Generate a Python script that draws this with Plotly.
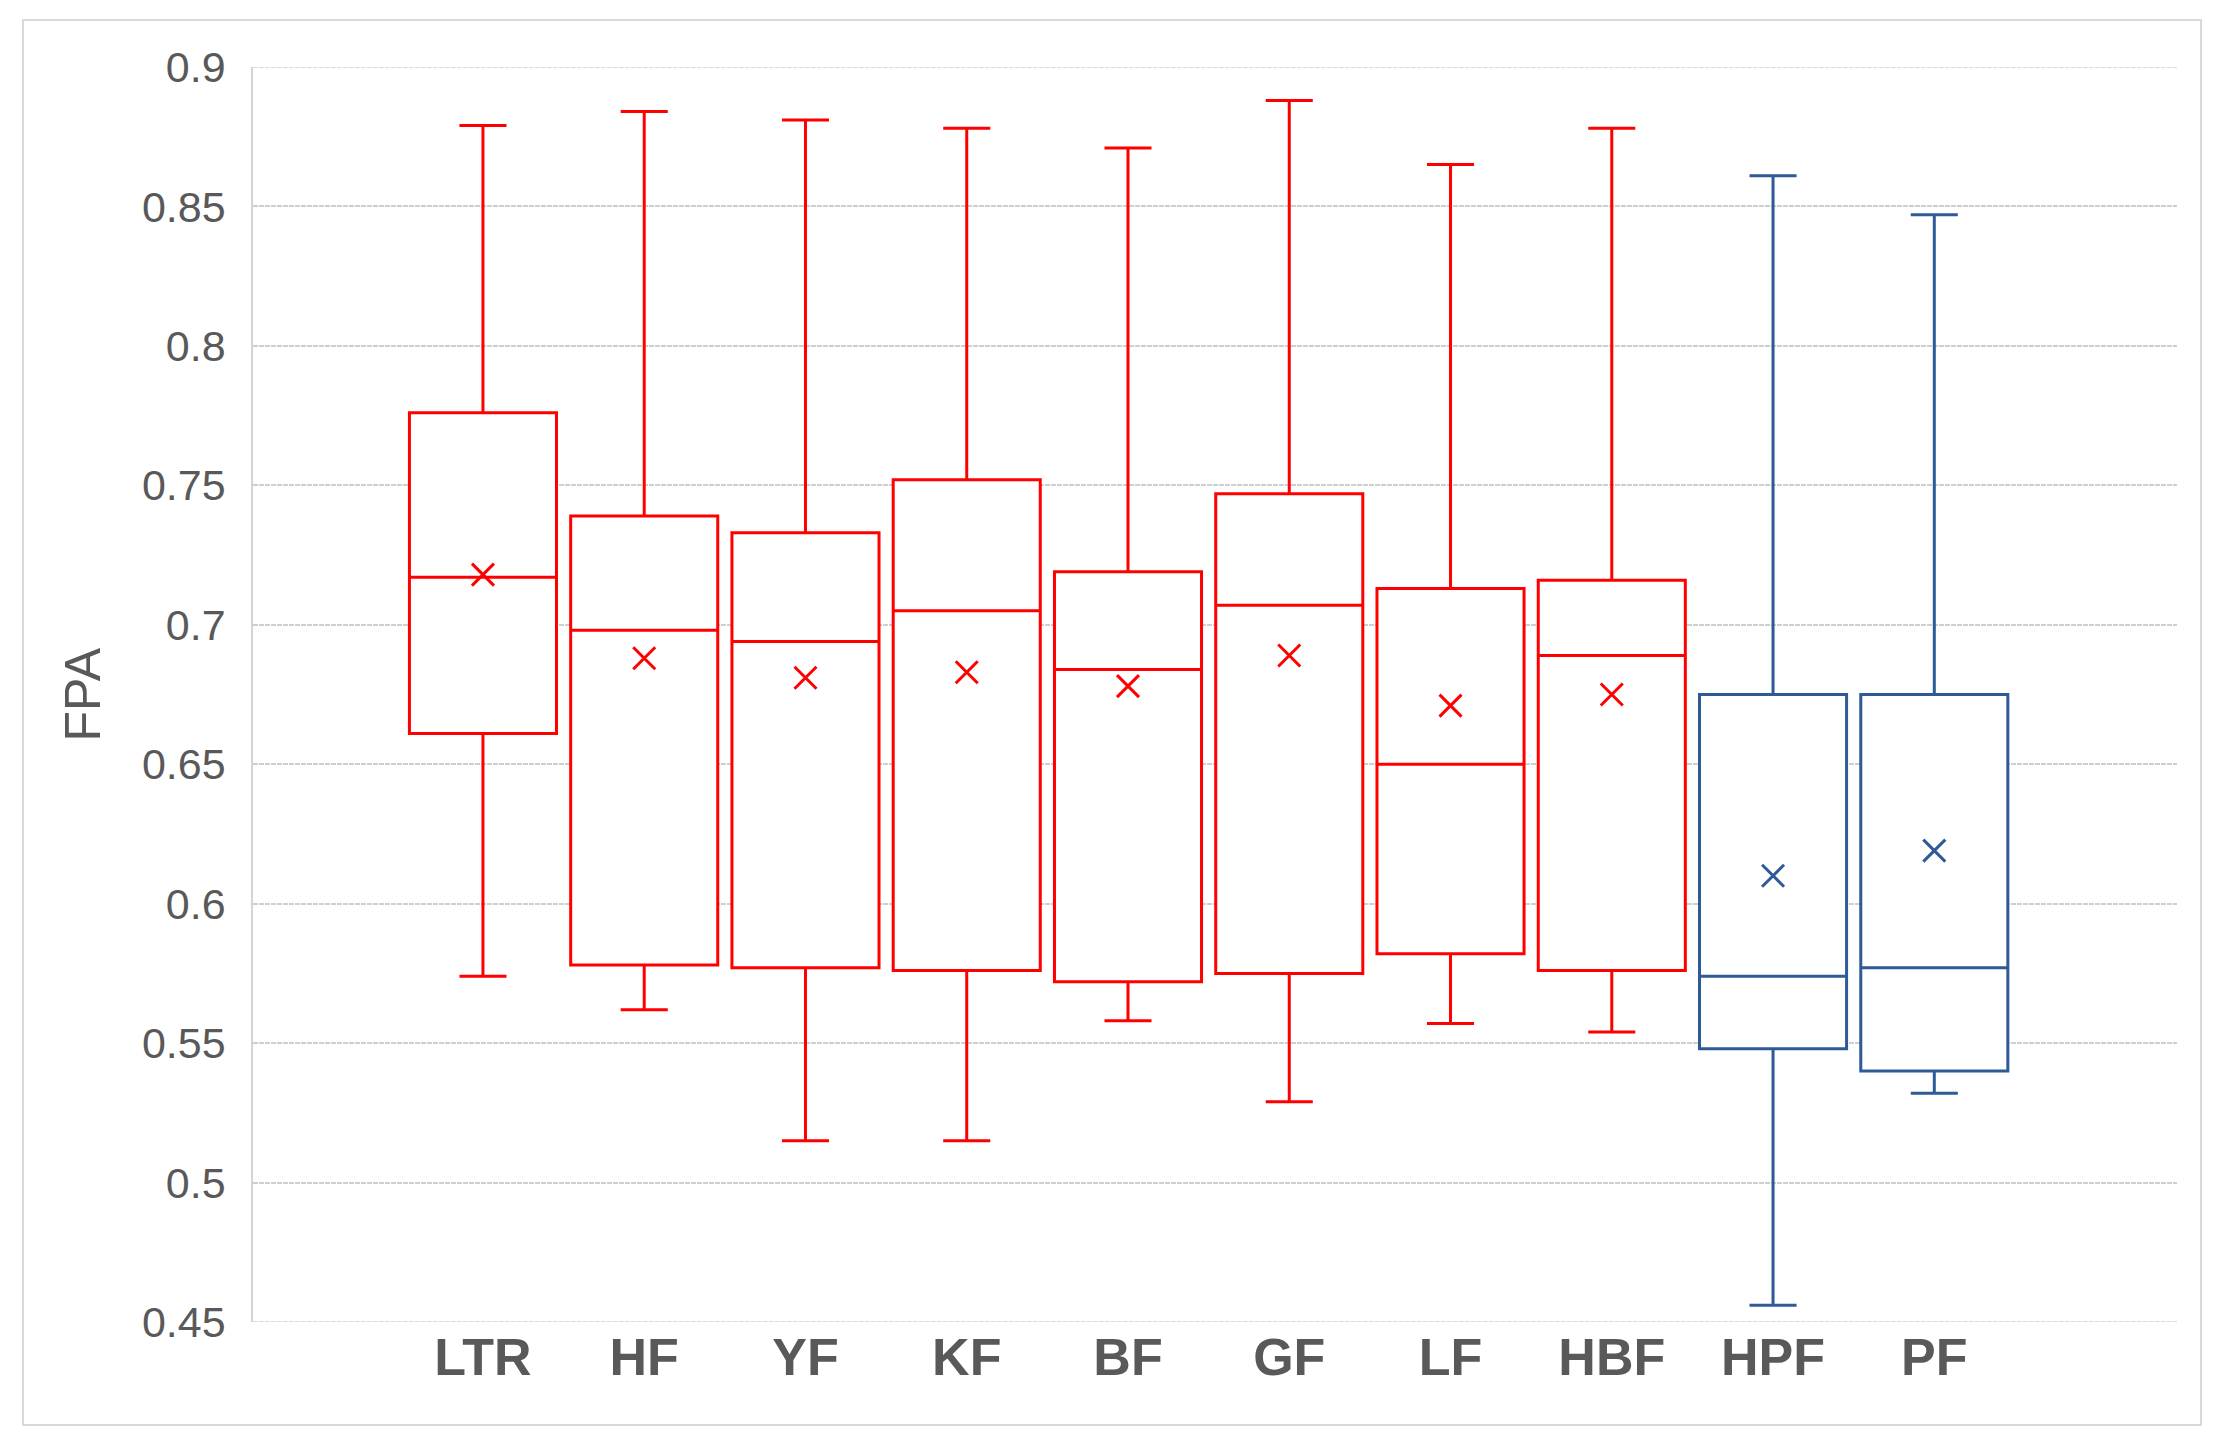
import plotly.graph_objects as go

# ---- data ----
categories = ["LTR", "HF", "YF", "KF", "BF", "GF", "LF", "HBF", "HPF", "PF"]
upper_whisker = [0.879, 0.884, 0.881, 0.878, 0.871, 0.888, 0.865, 0.878, 0.861, 0.847]
q3_values     = [0.776, 0.739, 0.733, 0.752, 0.719, 0.747, 0.713, 0.716, 0.675, 0.675]
median_values = [0.717, 0.698, 0.694, 0.705, 0.684, 0.707, 0.650, 0.689, 0.574, 0.577]
q1_values     = [0.661, 0.578, 0.577, 0.576, 0.572, 0.575, 0.582, 0.576, 0.548, 0.540]
lower_whisker = [0.574, 0.562, 0.515, 0.515, 0.558, 0.529, 0.557, 0.554, 0.456, 0.532]
mean_values   = [0.718, 0.688, 0.681, 0.683, 0.678, 0.689, 0.671, 0.675, 0.610, 0.619]
red_group  = ["LTR", "HF", "YF", "KF", "BF", "GF", "LF", "HBF"]
blue_group = ["HPF", "PF"]

y_tick_values = [0.45, 0.5, 0.55, 0.6, 0.65, 0.7, 0.75, 0.8, 0.85, 0.9]
y_tick_labels = ["0.45", "0.5", "0.55", "0.6", "0.65", "0.7", "0.75", "0.8", "0.85", "0.9"]
y_title = "FPA"

RED = "#FF0000"
BLUE = "#2F5A98"
GRID = "#CFCFCF"

fig = go.Figure()

def add_group(names, color):
    idx = [categories.index(n) for n in names]
    fig.add_trace(go.Box(
        x=names,
        q1=[q1_values[i] for i in idx],
        median=[median_values[i] for i in idx],
        q3=[q3_values[i] for i in idx],
        lowerfence=[lower_whisker[i] for i in idx],
        upperfence=[upper_whisker[i] for i in idx],
        boxpoints=False,
        width=0.912,
        whiskerwidth=0.32,
        line=dict(color=color, width=3),
        fillcolor="white",
        showlegend=False,
        hoverinfo="skip",
    ))
    fig.add_trace(go.Scatter(
        x=names,
        y=[mean_values[i] for i in idx],
        mode="markers",
        marker=dict(symbol="x-thin", size=22, color=color,
                    line=dict(color=color, width=3)),
        showlegend=False,
        hoverinfo="skip",
    ))

add_group(red_group, RED)
add_group(blue_group, BLUE)

# page body has an 8px margin; figure is sized to fit inside the window
W, H = 2212, 1428
OFF = 8
px_left, px_right, px_top, px_bottom = 253 - OFF, 2177 - OFF, 67 - OFF, 1322 - OFF
L, R, T, B = px_left, W - px_right, px_top, H - px_bottom
PW, PH = W - L - R, H - T - B

edge_lines = [dict(
    type="line", xref="paper", yref="y",
    x0=0, x1=1, y0=v, y1=v,
    line=dict(color=GRID, width=1.6, dash="5px,1px"), layer="below",
) for v in (y_tick_values[0], y_tick_values[-1])]

fig.update_layout(
    width=W, height=H,
    margin=dict(l=L, r=R, t=T, b=B),
    paper_bgcolor="white",
    plot_bgcolor="white",
    boxmode="overlay",
    xaxis=dict(
        type="category",
        categoryorder="array",
        categoryarray=categories,
        range=[-1.426, 10.505],
        showgrid=False,
        showline=False,
        zeroline=False,
        ticks="",
        ticklabelstandoff=0,
        tickfont=dict(family="Liberation Sans, Arial, sans-serif",
                      size=52, color="#595959", weight="bold"),
    ),
    yaxis=dict(
        range=[0.45, 0.9],
        tickvals=y_tick_values,
        ticktext=y_tick_labels,
        showgrid=True,
        gridcolor=GRID,
        gridwidth=1.6,
        griddash="5px,1px",
        zeroline=False,
        showline=True,
        linecolor="#D4D4D4",
        linewidth=1.5,
        ticks="",
        ticklabelstandoff=17,
        tickfont=dict(family="Liberation Sans, Arial, sans-serif", size=43, color="#595959"),
    ),
    annotations=[dict(
        text=y_title, xref="paper", yref="paper",
        x=(82 - OFF - L) / PW, y=0.5,
        xanchor="center", yanchor="middle",
        textangle=-90, showarrow=False,
        font=dict(family="Liberation Sans, sans-serif", size=50, color="#595959"),
    )],
    shapes=[dict(
        type="rect", xref="paper", yref="paper",
        x0=(23 - OFF - L) / PW, x1=(2201 - OFF - L) / PW,
        y0=-((1425 - OFF) - px_bottom) / PH, y1=1 + (px_top - (20 - OFF)) / PH,
        line=dict(color="#D9D9D9", width=2), layer="below",
    )] + edge_lines,
)

fig.write_html("out.html")
